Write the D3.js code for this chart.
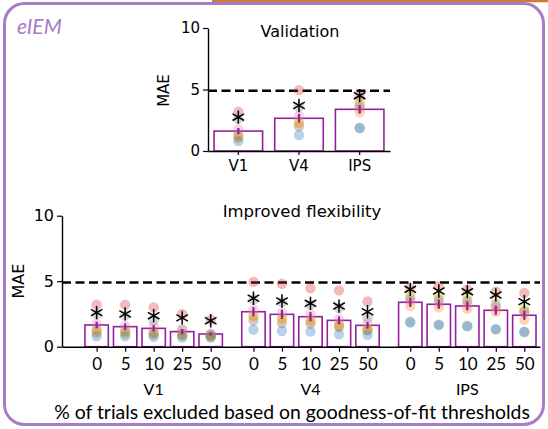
<!DOCTYPE html>
<html>
<head>
<meta charset="utf-8">
<script src="https://cdn.jsdelivr.net/npm/d3@7"></script>
<style>
  body { margin: 0; background: #fff; }
  svg { display: block; }
  .mpl { font-family: "DejaVu Sans", sans-serif; }
  .cal { font-family: Lato, "Open Sans", sans-serif; }
</style>
</head>
<body>
<svg id="fig" width="548" height="429"></svg>
<script>
// ---- data ----
var rois = ['V1', 'V4', 'IPS']
var levels = ['0', '5', '10', '25', '50']
var subjectColors = ['#d62728', '#7f7f7f', '#e377c2', '#8c564b', '#bcbd22', '#ff7f0e', '#1f77b4']

// validation panel
var valMean = [1.62, 2.66, 3.39]
var valSem = [0.25, 0.35, 0.35]
var valStar = [2.75, 3.7, 4.5]
var valDots = [ // one row per ROI, one value per subject
  [3.2, 2.6, 1.75, 1.3, 1.15, 1.05, 0.8],
  [4.95, 3.6, 2.85, 2.0, 2.4, 2.25, 1.3],
  [4.45, 1.9, 3.5, 3.7, 4.0, 3.15, 1.85]
]

// improved flexibility panel, one row per ROI, one value per exclusion level
var flexMean = [
  [1.66, 1.53, 1.40, 1.15, 0.97],
  [2.67, 2.47, 2.29, 2.01, 1.63],
  [3.39, 3.24, 3.11, 2.78, 2.40]
]
var flexSem = [
  [0.25, 0.25, 0.25, 0.2, 0.12],
  [0.35, 0.35, 0.35, 0.3, 0.25],
  [0.35, 0.35, 0.35, 0.35, 0.35]
]
var flexStar = [
  [2.6, 2.5, 2.37, 2.2, 1.98],
  [3.7, 3.49, 3.31, 3.1, 2.67],
  [4.38, 4.25, 4.2, 3.95, 3.44]
]
var v1Dots = [ // rows = subjects, cols = levels
  [3.2, 3.2, 3.0, 2.5, 2.05],
  [2.5, 2.4, 2.0, 1.35, 0.95],
  [1.75, 1.6, 1.5, 1.25, 1.0],
  [1.3, 1.2, 1.1, 0.95, 0.85],
  [1.15, 1.1, 1.0, 0.9, 0.8],
  [1.05, 1.0, 0.95, 0.85, 0.75],
  [0.8, 0.8, 0.75, 0.7, 0.7]
]
var v4Dots = [
  [4.95, 4.8, 4.45, 4.3, 3.45],
  [3.6, 3.4, 3.2, 2.95, 2.2],
  [2.85, 2.6, 2.45, 2.1, 1.75],
  [2.0, 1.8, 1.75, 1.5, 1.25],
  [2.4, 2.2, 2.05, 1.7, 1.4],
  [2.3, 2.1, 1.95, 1.6, 1.3],
  [1.3, 1.2, 1.15, 0.95, 0.9]
]
var ipsDots = [
  [4.45, 4.6, 4.35, 4.2, 4.1],
  [1.9, 1.7, 1.6, 1.3, 1.1],
  [3.5, 3.35, 3.25, 3.0, 2.6],
  [3.7, 3.6, 3.5, 3.2, 2.7],
  [4.05, 3.95, 3.85, 3.75, 2.9],
  [3.1, 3.0, 2.9, 2.65, 2.05],
  [1.85, 1.65, 1.55, 1.35, 1.15]
]
var chance = 4.9
var yTicks = [0, 5, 10]

var barColor = '#93209f'
var frameColor = '#a97cc6'

var svg = d3.select('#fig')

// frame
svg.append('line')
    .attr('x1', 212).attr('x2', 548).attr('y1', 1).attr('y2', 1)
    .attr('stroke', '#cf7a3a').attr('stroke-width', 2.5)
svg.append('rect')
    .attr('x', 4.5).attr('y', 3.5).attr('width', 539).attr('height', 421)
    .attr('rx', 20)
    .attr('fill', 'none').attr('stroke', frameColor).attr('stroke-width', 3)
svg.append('text').attr('class', 'cal')
    .attr('x', 17).attr('y', 34)
    .style('font-size', '21px').style('font-style', 'italic')
    .attr('fill', frameColor).text('eIEM')

var star = d3.symbol().type(d3.symbolAsterisk).size(125)

function styleAxis (g, size) {
  g.selectAll('path.domain').attr('stroke', '#000').attr('stroke-width', 1.4)
  g.selectAll('.tick line').attr('stroke', '#000').attr('stroke-width', 1.2)
  g.selectAll('.tick text').attr('fill', '#000').style('font-size', size + 'px')
  g.attr('font-family', null)
}

function drawMarks (g, items, x, y, bw) {
  // items: {x, mean, sem, star, dots}
  var dots = []
  items.forEach(d => d.dots.forEach((v, i) => dots.push({x: d.x, v: v, c: subjectColors[i]})))

  g.selectAll('rect.bar').data(items).join('rect')
      .attr('class', 'bar')
      .attr('x', d => x(d.x) - bw / 2)
      .attr('width', bw)
      .attr('y', d => y(d.mean))
      .attr('height', d => y(0) - y(d.mean))
      .attr('fill', 'none')
      .attr('stroke', barColor).attr('stroke-width', 1.6)

  g.selectAll('circle.dot').data(dots).join('circle')
      .attr('class', 'dot')
      .attr('cx', d => x(d.x))
      .attr('cy', d => y(d.v))
      .attr('r', 5.2)
      .attr('fill', d => d.c).attr('fill-opacity', 0.32)

  g.selectAll('line.err').data(items).join('line')
      .attr('class', 'err')
      .attr('x1', d => x(d.x)).attr('x2', d => x(d.x))
      .attr('y1', d => y(d.mean - d.sem)).attr('y2', d => y(d.mean + d.sem))
      .attr('stroke', barColor).attr('stroke-width', 2.2)

  g.selectAll('path.star').data(items).join('path')
      .attr('class', 'star')
      .attr('d', star)
      .attr('transform', d => `translate(${x(d.x)},${y(d.star)})`)
      .attr('fill', 'none').attr('stroke', '#000').attr('stroke-width', 1.5)
}

// ---- validation panel ----
var yTop = d3.scaleLinear().domain([0, 10]).range([151, 28])
var xTop = d3.scaleBand().domain(rois).range([208, 390]).paddingInner(0.2).paddingOuter(0.1)

var topG = svg.append('g').attr('class', 'mpl')

topG.append('line')
    .attr('x1', 208).attr('x2', 390)
    .attr('y1', yTop(chance)).attr('y2', yTop(chance))
    .attr('stroke', '#000').attr('stroke-width', 2.6).attr('stroke-dasharray', '9,4.5')

drawMarks(topG, rois.map((r, i) => ({
  x: r, mean: valMean[i], sem: valSem[i], star: valStar[i], dots: valDots[i]
})), r => xTop(r) + xTop.bandwidth() / 2, yTop, xTop.bandwidth())

topG.append('g')
    .attr('transform', 'translate(208,0)')
    .call(d3.axisLeft(yTop).tickValues(yTicks).tickSize(5).tickSizeOuter(0).tickPadding(3))
    .call(g => styleAxis(g, 15))
topG.append('g')
    .attr('transform', `translate(0,${yTop(0)})`)
    .call(d3.axisBottom(xTop).tickSize(4).tickSizeOuter(0).tickPadding(5))
    .call(g => styleAxis(g, 15))

topG.append('text')
    .attr('x', 300).attr('y', 37).attr('text-anchor', 'middle')
    .style('font-size', '16px').text('Validation')
topG.append('text')
    .attr('transform', `translate(169,${yTop(5) + 1}) rotate(-90)`)
    .attr('text-anchor', 'middle')
    .style('font-size', '15px').text('MAE')

// ---- improved flexibility panel ----
var yBot = d3.scaleLinear().domain([0, 10]).range([346.7, 215.7])
var xBot = d3.scaleLinear().domain([-1.215, 15.55]).range([62, 540])
var slot = (g, l) => g * 5.5 + l
var step = xBot(1) - xBot(0)

var botG = svg.append('g').attr('class', 'mpl')

botG.append('line')
    .attr('x1', 62).attr('x2', 540)
    .attr('y1', yBot(chance)).attr('y2', yBot(chance))
    .attr('stroke', '#000').attr('stroke-width', 2.6).attr('stroke-dasharray', '9,4.5')

var flexDots = [v1Dots, v4Dots, ipsDots]
var flexItems = []
rois.forEach((r, g) => levels.forEach((lv, l) => {
  flexItems.push({
    x: slot(g, l), mean: flexMean[g][l], sem: flexSem[g][l], star: flexStar[g][l],
    dots: flexDots[g].map(s => s[l])
  })
}))
drawMarks(botG, flexItems, xBot, yBot, step * 0.82)

botG.append('g')
    .attr('transform', 'translate(62,0)')
    .call(d3.axisLeft(yBot).tickValues(yTicks).tickSize(5).tickSizeOuter(0).tickPadding(3))
    .call(g => styleAxis(g, 16))

var slots = flexItems.map(d => d.x)
var xAxis = botG.append('g')
    .attr('transform', `translate(0,${yBot(0)})`)
    .call(d3.axisBottom(xBot).tickValues(slots).tickSize(5).tickSizeOuter(0).tickPadding(6)
      .tickFormat((d, i) => levels[i % levels.length]))
    .call(g => styleAxis(g, 17))
xAxis.selectAll('.tick text').attr('class', 'cal')

botG.append('text')
    .attr('x', 302).attr('y', 217).attr('text-anchor', 'middle')
    .style('font-size', '16.5px').text('Improved flexibility')
botG.append('text')
    .attr('transform', `translate(24,${yBot(5)}) rotate(-90)`)
    .attr('text-anchor', 'middle')
    .style('font-size', '16px').text('MAE')

botG.selectAll('text.roi').data(rois).join('text')
    .attr('class', 'roi cal')
    .attr('x', (r, g) => xBot(slot(g, 2)))
    .attr('y', 395)
    .attr('text-anchor', 'middle')
    .style('font-size', '16px').text(r => r)

svg.append('text').attr('class', 'cal')
    .attr('x', 292).attr('y', 419).attr('text-anchor', 'middle')
    .style('font-size', '19.4px')
    .text('% of trials excluded based on goodness-of-fit thresholds')
</script>
</body>
</html>
